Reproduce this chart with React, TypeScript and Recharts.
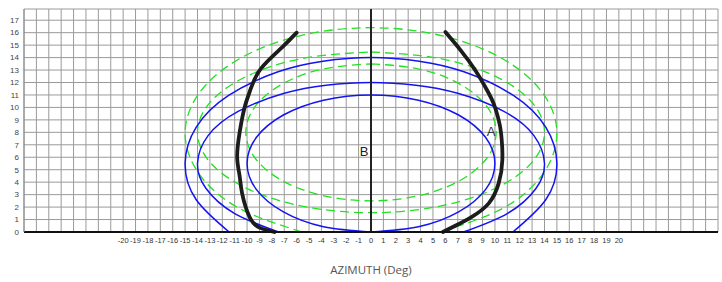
import React from "react";
import {
  ComposedChart,
  Line,
  XAxis,
  YAxis,
  CartesianGrid,
  ReferenceLine,
  ReferenceDot,
} from "recharts";

// grid positions (one per degree) and the labels that are printed
const xGridTicks = [
  -28, -27, -26, -25, -24, -23, -22, -21, -20, -19, -18, -17, -16, -15, -14,
  -13, -12, -11, -10, -9, -8, -7, -6, -5, -4, -3, -2, -1, 0, 1, 2, 3, 4, 5, 6,
  7, 8, 9, 10, 11, 12, 13, 14, 15, 16, 17, 18, 19, 20, 21, 22, 23, 24, 25, 26,
  27, 28,
];
const xTickLabels = [
  -20, -19, -18, -17, -16, -15, -14, -13, -12, -11, -10, -9, -8, -7, -6, -5,
  -4, -3, -2, -1, 0, 1, 2, 3, 4, 5, 6, 7, 8, 9, 10, 11, 12, 13, 14, 15, 16, 17,
  18, 19, 20,
];
const yTicks = [0, 1, 2, 3, 4, 5, 6, 7, 8, 9, 10, 11, 12, 13, 14, 15, 16, 17];

// blue solid contours
const blueInner = [
  { x: 0, y: 0 }, { x: 3.83, y: 0.42 }, { x: 7.07, y: 1.61 }, { x: 9.24, y: 3.4 },
  { x: 10, y: 5.5 }, { x: 9.24, y: 7.6 }, { x: 7.07, y: 9.39 }, { x: 3.83, y: 10.58 },
  { x: 0, y: 11 }, { x: -3.83, y: 10.58 }, { x: -7.07, y: 9.39 }, { x: -9.24, y: 7.6 },
  { x: -10, y: 5.5 }, { x: -9.24, y: 3.4 }, { x: -7.07, y: 1.61 }, { x: -3.83, y: 0.42 },
  { x: 0, y: 0 },
];
const blueMiddle = [
  { x: -7.46, y: 0 }, { x: -11.03, y: 1.5 }, { x: -13.31, y: 3.49 }, { x: -14, y: 5.5 },
  { x: -13.16, y: 7.72 }, { x: -10.72, y: 9.68 }, { x: -7, y: 11.13 }, { x: -3.62, y: 11.78 },
  { x: 0, y: 12 },
  { x: 3.62, y: 11.78 }, { x: 7, y: 11.13 }, { x: 10.72, y: 9.68 }, { x: 13.16, y: 7.72 },
  { x: 14, y: 5.5 }, { x: 13.31, y: 3.49 }, { x: 11.03, y: 1.5 }, { x: 7.46, y: 0 },
];
const blueOuter = [
  { x: -11.44, y: 0 }, { x: -14.1, y: 2.59 }, { x: -15, y: 5.5 }, { x: -14.1, y: 8.41 },
  { x: -11.49, y: 10.96 }, { x: -7.5, y: 12.86 }, { x: -3.88, y: 13.71 }, { x: 0, y: 14 },
  { x: 3.88, y: 13.71 }, { x: 7.5, y: 12.86 }, { x: 11.49, y: 10.96 }, { x: 14.1, y: 8.41 },
  { x: 15, y: 5.5 }, { x: 14.1, y: 2.59 }, { x: 11.44, y: 0 },
];

// green dashed contours
const greenInner = [
  { x: 0, y: 13.5 }, { x: 3.87, y: 13.08 }, { x: 7.14, y: 11.89 }, { x: 9.33, y: 10.1 },
  { x: 10.1, y: 8 }, { x: 9.33, y: 5.9 }, { x: 7.14, y: 4.11 }, { x: 3.87, y: 2.92 },
  { x: 0, y: 2.5 }, { x: -3.87, y: 2.92 }, { x: -7.14, y: 4.11 }, { x: -9.33, y: 5.9 },
  { x: -10.1, y: 8 }, { x: -9.33, y: 10.1 }, { x: -7.14, y: 11.89 }, { x: -3.87, y: 13.08 },
  { x: 0, y: 13.5 },
];
const greenMiddle = [
  { x: 0, y: 14.45 }, { x: 5.36, y: 13.96 }, { x: 9.9, y: 12.56 }, { x: 12.93, y: 10.47 },
  { x: 14, y: 8 }, { x: 12.93, y: 5.53 }, { x: 9.9, y: 3.44 }, { x: 5.36, y: 2.04 },
  { x: 0, y: 1.55 }, { x: -5.36, y: 2.04 }, { x: -9.9, y: 3.44 }, { x: -12.93, y: 5.53 },
  { x: -14, y: 8 }, { x: -12.93, y: 10.47 }, { x: -9.9, y: 12.56 }, { x: -5.36, y: 13.96 },
  { x: 0, y: 14.45 },
];
const greenOuter = [
  { x: -5.55, y: 0 }, { x: -10.61, y: 1.89 }, { x: -13.86, y: 4.65 }, { x: -15, y: 7.9 },
  { x: -13.86, y: 11.15 }, { x: -10.61, y: 13.91 }, { x: -5.74, y: 15.75 }, { x: 0, y: 16.4 },
  { x: 5.74, y: 15.75 }, { x: 10.61, y: 13.91 }, { x: 13.86, y: 11.15 }, { x: 15, y: 7.9 },
  { x: 13.86, y: 4.65 }, { x: 10.61, y: 1.89 }, { x: 5.55, y: 0 },
];

// heavy black curves
const curveLeft = [
  { x: -6, y: 16 }, { x: -7.2, y: 14.8 }, { x: -8.9, y: 13.1 },
  { x: -9.7, y: 11.5 }, { x: -10.2, y: 10 }, { x: -10.6, y: 8 },
  { x: -10.8, y: 6 }, { x: -10.6, y: 4.5 }, { x: -10.4, y: 3.1 },
  { x: -9.8, y: 1.2 }, { x: -9, y: 0.35 }, { x: -7.8, y: 0 },
];
const curveRight = [
  { x: 6, y: 16.05 }, { x: 7.3, y: 14.5 }, { x: 8.4, y: 13 },
  { x: 9.3, y: 11.5 }, { x: 9.9, y: 10.3 }, { x: 10.3, y: 9 },
  { x: 10.5, y: 7.9 }, { x: 10.6, y: 5.8 }, { x: 10.3, y: 3.9 },
  { x: 9.5, y: 2.3 }, { x: 8.1, y: 1.2 }, { x: 6.8, y: 0.5 },
  { x: 5.8, y: 0 },
];

const BLUE = "#1414f0";
const GREEN = "#22e022";
const FONT = "'Liberation Sans', Arial, sans-serif";

const XTick = (props: any) => {
  const { x, y, payload } = props;
  if (!xTickLabels.includes(payload.value)) return null;
  return (
    <text x={x} y={y} dy="0.35em" textAnchor="middle" fontSize={7.5} fill="#333" fontFamily={FONT}>
      {payload.value}
    </text>
  );
};

const YTick = (props: any) => {
  const { x, y, payload } = props;
  return (
    <text x={x + 3} y={y} dy="0.35em" textAnchor="end" fontSize={8} fill="#444" fontFamily={FONT}>
      {payload.value}
    </text>
  );
};

export default function App() {
  return (
    <div style={{ position: "absolute", left: 0, top: 0, background: "#fff" }}>
      <ComposedChart
        width={722}
        height={282}
        margin={{ top: 9, right: 4, bottom: 0, left: 0 }}
      >
        <CartesianGrid stroke="#9a9a9a" strokeWidth={1} />
        <XAxis
          type="number"
          dataKey="x"
          domain={[-28, 28]}
          ticks={xGridTicks}
          interval={0}
          tickLine={false}
          axisLine={{ stroke: "#111", strokeWidth: 2 }}
          tick={<XTick />}
          height={50}
          label={{
            value: "AZIMUTH (Deg)",
            position: "insideBottom",
            offset: 8,
            fontSize: 11.5,
            fill: "#555",
            fontFamily: "'Open Sans', sans-serif",
          }}
        />
        <YAxis
          type="number"
          domain={[0, 17.9]}
          ticks={yTicks}
          interval={0}
          width={24}
          tickLine={false}
          axisLine={{ stroke: "#888" }}
          tick={<YTick />}
        />
        <Line data={greenOuter} dataKey="y" type="natural" stroke={GREEN} strokeWidth={1.3} strokeDasharray="9 5" dot={false} isAnimationActive={false} />
        <Line data={greenMiddle} dataKey="y" type="natural" stroke={GREEN} strokeWidth={1.3} strokeDasharray="9 5" dot={false} isAnimationActive={false} />
        <Line data={greenInner} dataKey="y" type="natural" stroke={GREEN} strokeWidth={1.3} strokeDasharray="9 5" dot={false} isAnimationActive={false} />
        <Line data={blueOuter} dataKey="y" type="natural" stroke={BLUE} strokeWidth={1.5} dot={false} isAnimationActive={false} />
        <Line data={blueMiddle} dataKey="y" type="natural" stroke={BLUE} strokeWidth={1.5} dot={false} isAnimationActive={false} />
        <Line data={blueInner} dataKey="y" type="natural" stroke={BLUE} strokeWidth={1.5} dot={false} isAnimationActive={false} />
        <ReferenceLine x={0} stroke="#222" strokeWidth={2} />
        <Line data={curveLeft} dataKey="y" type="natural" stroke="#1c1c1c" strokeWidth={3.8} strokeLinecap="round" dot={false} isAnimationActive={false} />
        <Line data={curveRight} dataKey="y" type="natural" stroke="#1c1c1c" strokeWidth={3.8} strokeLinecap="round" dot={false} isAnimationActive={false} />
        <ReferenceDot x={-0.55} y={6.5} r={0} fill="none" stroke="none" label={{ value: "B", position: "center", fontSize: 13, fill: "#222", fontFamily: FONT }} />
        <ReferenceDot x={9.7} y={8.1} r={0} fill="none" stroke="none" label={{ value: "A", position: "center", fontSize: 13, fill: "#333", fontFamily: FONT }} />
      </ComposedChart>
    </div>
  );
}
